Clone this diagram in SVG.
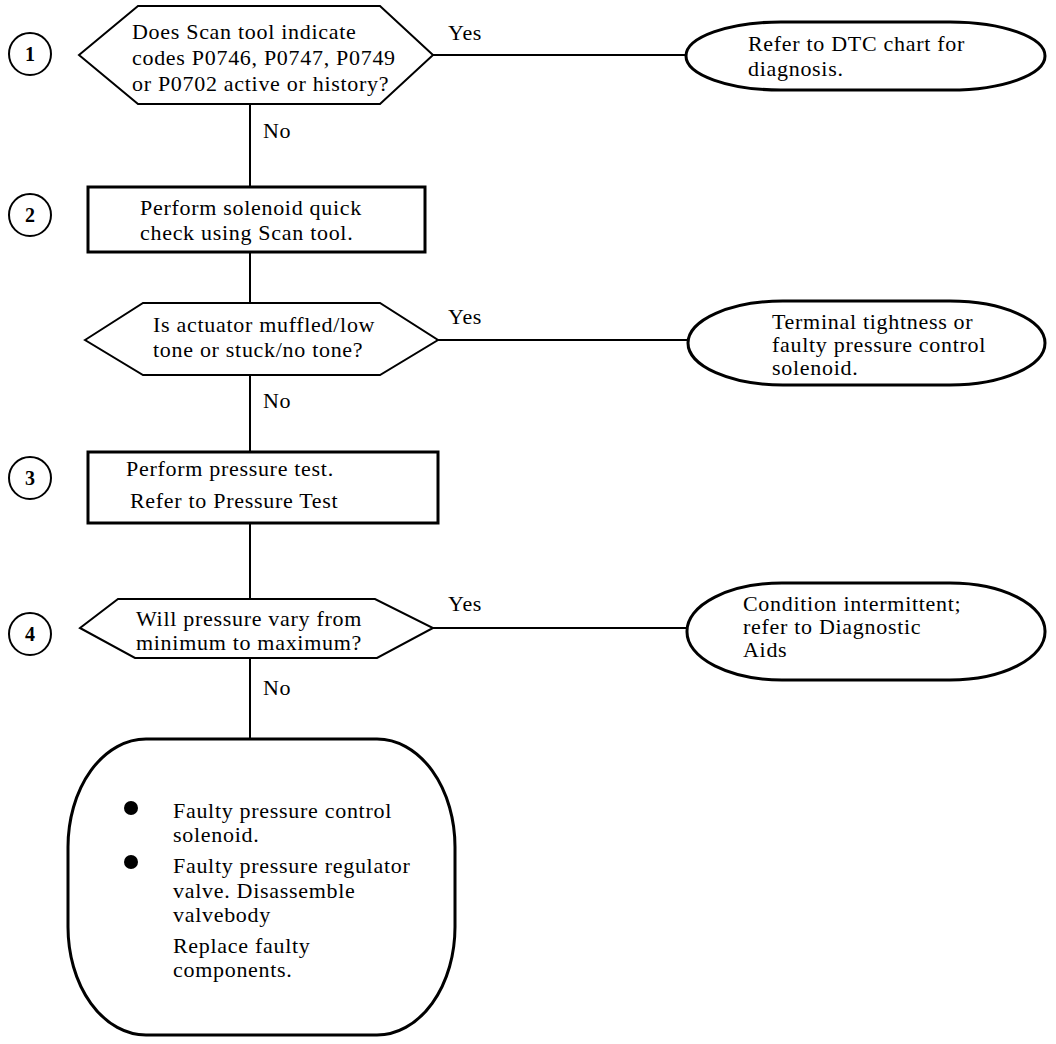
<svg xmlns="http://www.w3.org/2000/svg" width="1056" height="1044" viewBox="0 0 1056 1044">
<style>
.s{fill:#fff;stroke:#000;stroke-width:3}
.c{fill:#fff;stroke:#000;stroke-width:2}
.l{stroke:#000;stroke-width:2;fill:none}
text{font-family:"Liberation Serif","Times New Roman",serif;font-size:22px;letter-spacing:0.7px;fill:#000}
.n{font-weight:bold;font-size:20px;letter-spacing:0;text-anchor:middle}
</style>
<rect width="1056" height="1044" fill="#fff"/>
<g id="connectors">
<line class="l" x1="250" y1="104" x2="250" y2="187"/>
<line class="l" x1="250" y1="252" x2="250" y2="304"/>
<line class="l" x1="250" y1="375" x2="250" y2="452"/>
<line class="l" x1="250" y1="523" x2="250" y2="599"/>
<line class="l" x1="250" y1="658" x2="250" y2="739"/>
<line class="l" x1="433" y1="55" x2="686" y2="55"/>
<line class="l" x1="437" y1="340" x2="688" y2="340"/>
<line class="l" x1="433" y1="628" x2="687" y2="628"/>
<text x="448" y="40">Yes</text>
<text x="263" y="138">No</text>
<text x="448" y="324">Yes</text>
<text x="263" y="408">No</text>
<text x="448" y="611">Yes</text>
<text x="263" y="695">No</text>
</g>
<g id="step1">
<circle class="c" cx="30" cy="54" r="21"/>
<text class="n" x="30" y="61">1</text>
</g>
<g id="step2">
<circle class="c" cx="30" cy="215" r="21"/>
<text class="n" x="30" y="222">2</text>
</g>
<g id="step3">
<circle class="c" cx="30" cy="478" r="21"/>
<text class="n" x="30" y="485">3</text>
</g>
<g id="step4">
<circle class="c" cx="30" cy="634" r="21"/>
<text class="n" x="30" y="641">4</text>
</g>
<g id="d1">
<polygon class="c" points="79,55 138,6 380,6 433,55 380,104 138,104"/>
<text x="132" y="39">Does Scan tool indicate</text>
<text x="132" y="65">codes P0746, P0747, P0749</text>
<text x="132" y="91">or P0702 active or history?</text>
</g>
<g id="t1">
<rect class="s" x="686" y="22" width="359" height="68" rx="95" ry="34"/>
<text x="748" y="51">Refer to DTC chart for</text>
<text x="748" y="76">diagnosis.</text>
</g>
<g id="b2">
<rect class="s" x="88" y="187" width="337" height="65"/>
<text x="140" y="215">Perform solenoid quick</text>
<text x="140" y="240">check using Scan tool.</text>
</g>
<g id="d2">
<polygon class="c" points="85,340 143,303 380,303 438,340 380,375 143,375"/>
<text x="153" y="332">Is actuator muffled/low</text>
<text x="153" y="357">tone or stuck/no tone?</text>
</g>
<g id="t2">
<rect class="s" x="688" y="301" width="357" height="84" rx="95" ry="42"/>
<text x="772" y="329">Terminal tightness or</text>
<text x="772" y="352">faulty pressure control</text>
<text x="772" y="375">solenoid.</text>
</g>
<g id="b3">
<rect class="s" x="88" y="452" width="350" height="71"/>
<text x="126" y="476">Perform pressure test.</text>
<text x="130" y="508">Refer to Pressure Test</text>
</g>
<g id="d4">
<polygon class="c" points="80,628 118,599 375,599 433,628 377,658 135,658"/>
<text x="136" y="626">Will pressure vary from</text>
<text x="136" y="650">minimum to maximum?</text>
</g>
<g id="t4">
<rect class="s" x="687" y="583" width="358" height="97" rx="95" ry="48"/>
<text x="743" y="611">Condition intermittent;</text>
<text x="743" y="634">refer to  Diagnostic</text>
<text x="743" y="657">Aids</text>
</g>
<g id="end">
<rect class="s" x="68" y="739" width="387" height="296" rx="78" ry="108"/>
<circle cx="131" cy="808" r="7"/>
<circle cx="131" cy="862" r="7"/>
<text x="173" y="818">Faulty pressure control</text>
<text x="173" y="842">solenoid.</text>
<text x="173" y="873">Faulty pressure regulator</text>
<text x="173" y="898">valve. Disassemble</text>
<text x="173" y="922">valvebody</text>
<text x="173" y="953">Replace faulty</text>
<text x="173" y="977">components.</text>
</g>
</svg>
